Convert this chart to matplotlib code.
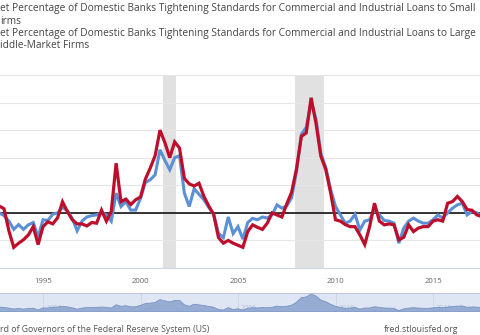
import matplotlib
matplotlib.use("Agg")
import matplotlib.pyplot as plt
import numpy as np

plt.rcParams["font.family"] = ["Open Sans", "DejaVu Sans"]

W, H = 480, 335

# quarterly survey results, first quarter shown is 1992 Q3
START_YEAR = 1992.5
small_firms = [
    2, 0,
    -2, -6, -12, -8.5,
    -12, -8.7, -7, -17.5,
    -5, -5.5, -1, 0,
    4, 1.5, -4, -13,
    -6, -3, -2, -1.5,
    0, -1.5, -6, 14.3,
    4.6, 8.2, 2, 2,
    10.5, 22, 24, 27.6,
    45.8, 38, 31.3, 40,
    41.5, 14.3, 4.6, 17.5,
    13.5, 9.5, 4, -1,
    -15, -18, -3, -15,
    -10, -19, -7, -4,
    -5, -3, -3.8, -1.5,
    5.8, 3.4, 5, 11,
    30, 57, 62, 80,
    68, 43, 33, 17,
    4.6, -1.5, -7.5, -6,
    -1, -12.4, -6, -5,
    2.4, -1.5, -5.5, -6,
    -7.5, -22, -11, -6,
    -3.8, -6, -7.5, -7.5,
    -5, -1.5, -3.8, 0,
    3.4, 5.8, 7, -1.5,
    1, 0, -2.7,
]
large_firms = [
    5, 5,
    3, -13, -25, -22,
    -19.5, -16, -10, -23,
    -10, -6.5, -8, -3.5,
    8, 1, -5, -8,
    -8, -9.5, -7, -7.5,
    2, -6, 1, 36,
    8, 10, 6, 9.5,
    11.5, 24.5, 32.5, 41.5,
    60, 51, 40, 51.5,
    47, 25, 21, 19.5,
    21.5, 12, 5, -1,
    -18, -22, -20, -22,
    -23.5, -25, -13.5, -8.7,
    -10.5, -12, -7.5, 0,
    -1.5, -3, 6.5, 15,
    32, 55.5, 58, 83.5,
    65, 41, 31.5, 14.5,
    -5, -6, -8.5, -10,
    -10, -16, -23, -10,
    7, -6, -8.7, -8,
    -8.7, -19.6, -17.7, -8.7,
    -13.6, -11, -10, -10,
    -6, -5, -6, 7,
    8.2, 11.9, 8.2, 2.4,
    1.9, -1.5, -2.7,
]
recessions = [(2001.17, 2001.83), (2007.92, 2009.42)]
year_ticks = [1995, 2000, 2005, 2010, 2015]

# series titles as they show in the strip above the chart
legend_lines = [
    "et Percentage of Domestic Banks Tightening Standards for Commercial and Industrial Loans to Small",
    "irms",
    "et Percentage of Domestic Banks Tightening Standards for Commercial and Industrial Loans to Large",
    "iddle-Market Firms",
]
source_text = "rd of Governors of the Federal Reserve System (US)"
site_text = "fred.stlouisfed.org"

quarters = START_YEAR + 0.25 * np.arange(len(small_firms))
xlim = (1995 - 43 / 19.5, 1995 + (W - 43) / 19.5)

BLUE = "#5b90d4"
RED = "#bd0f2c"

fig = plt.figure(figsize=(W / 100, H / 100), dpi=100)
fig.patch.set_facecolor("white")


def px_box(left, top, right, bottom):
    return [left / W, 1 - bottom / H, (right - left) / W, (bottom - top) / H]


# main plot
ax = fig.add_axes(px_box(0, 75, W, 268))
ax.set_xlim(*xlim)
ax.set_ylim(-40, 100)
for a, b in recessions:
    ax.axvspan(a, b, color="#e1e1e1", lw=0, zorder=0)
ax.set_yticks(np.arange(-40, 101, 20))
ax.yaxis.grid(True, color="#e6e6e6", lw=0.8, zorder=0)
ax.set_axisbelow(True)
ax.axhline(0, color="black", lw=1.1, zorder=2)
ax.plot(quarters, small_firms, color=BLUE, lw=2.2, zorder=3, solid_joinstyle="miter")
ax.plot(quarters, large_firms, color=RED, lw=2.3, zorder=4, solid_joinstyle="miter")
for s in ["top", "left", "right"]:
    ax.spines[s].set_visible(False)
ax.spines["bottom"].set_color("#ccd6eb")
ax.spines["bottom"].set_linewidth(0.8)
ax.set_xticks(year_ticks)
ax.set_xticklabels([str(y) for y in year_ticks])
ax.tick_params(axis="x", length=0, pad=7, labelsize=5.6, labelcolor="#666666")
ax.tick_params(axis="y", left=False, labelleft=False)

# navigator strip
nav = fig.add_axes(px_box(0, 293, W, 312))
nav.set_xlim(*xlim)
nav.set_ylim(-30, 86)
nav.set_facecolor("#dfe6f3")
for y in year_ticks:
    nav.axvline(y, color="#cbd5e8", lw=0.6, zorder=1)
    nav.text(y + 0.15, -8, str(y), fontsize=5, color="#b7c2d8", va="center", zorder=1)
nav.fill_between(quarters, small_firms, -30, color="#8aa2cd", alpha=0.85, lw=0.6,
                 edgecolor="#6f8bbf", zorder=2)
for s in ["left", "right", "bottom"]:
    nav.spines[s].set_visible(False)
nav.spines["top"].set_color("#b3c0d9")
nav.spines["top"].set_linewidth(0.6)
nav.set_xticks([])
nav.set_yticks([])

for text, y in zip(legend_lines, [9, 21, 33.5, 45]):
    fig.text(0, 1 - y / H, text, fontsize=7.3, color="#444444", va="center", ha="left")
fig.text(0, 1 - 329 / H, source_text, fontsize=6.3, color="#555555", va="center", ha="left")
fig.text(458 / W, 1 - 329 / H, site_text, fontsize=6.25, color="#555555",
         ha="right", va="center")

fig.savefig("out.png", dpi=100)
